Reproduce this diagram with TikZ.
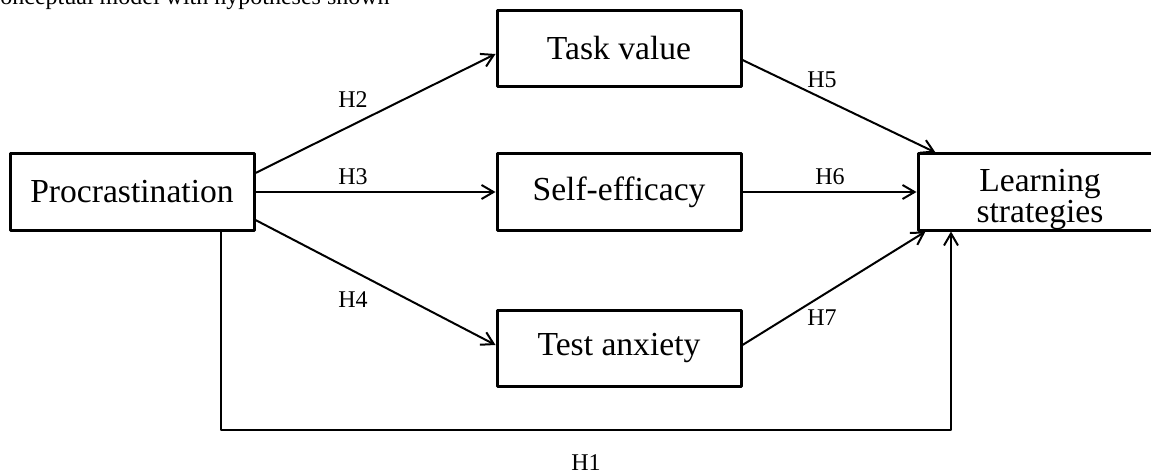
\documentclass[tikz,border=0pt]{standalone}
\usepackage{fontspec}
\setmainfont{Liberation Serif}
\usetikzlibrary{arrows.meta}
\tikzset{varbox/.style={draw,line width=1.5pt,minimum width=122pt,minimum height=38pt,inner sep=0pt,align=center,font=\fontsize{16.8}{14.5}\selectfont}}
\tikzset{hlabel/.style={inner sep=0pt,font=\fontsize{12}{14}\selectfont}}
\begin{document}
\begin{tikzpicture}[line cap=round,line join=round,>={Straight Barb[length=6pt,width=7pt]},x=0.5pt,y=-0.5pt]
\useasboundingbox (0,0) rectangle (1151,476);
\clip (0,0) rectangle (1151,476);
\node [hlabel,anchor=base west] (title) at (0,5) {onceptual model with hypotheses shown};
\node [varbox] (proc) at (132,192) {Procrastination};
\node [varbox] (task) at (619,48.5) {Task value};
\node [varbox] (self) at (619,192) {Self-efficacy};
\node [varbox] (test) at (619,348) {Test anxiety};
\node [varbox] (learn) at (1040,192) {\rule{0pt}{18.5pt}Learning\\strategies};
\coordinate (h1corner) at (951,430);
\draw [->,line width=1pt] ([yshift=9.5pt]proc.east) -- ([yshift=-2.75pt]task.west);
\draw [->,line width=1pt] (proc.east) -- (self.west);
\draw [->,line width=1pt] ([yshift=-14pt]proc.east) -- ([yshift=1.5pt]test.west);
\draw [->,line width=1pt] ([yshift=-5.75pt]task.east) -- ([xshift=9.5pt]learn.north west);
\draw [->,line width=1pt] (self.east) -- (learn.west);
\draw [->,line width=1pt] ([yshift=1.5pt]test.east) -- ([xshift=4.5pt]learn.south west);
\draw [->,line width=1pt] ([xshift=44.5pt]proc.south) |- (h1corner) -- ([xshift=-44.5pt]learn.south);
\node [hlabel] (h2) at (353,100) {H2};
\node [hlabel] (h3) at (353,177) {H3};
\node [hlabel] (h4) at (353,300) {H4};
\node [hlabel] (h5) at (822,80) {H5};
\node [hlabel] (h6) at (830,177) {H6};
\node [hlabel] (h7) at (822,318) {H7};
\node [hlabel] (h1) at (586,463) {H1};
\end{tikzpicture}
\end{document}
